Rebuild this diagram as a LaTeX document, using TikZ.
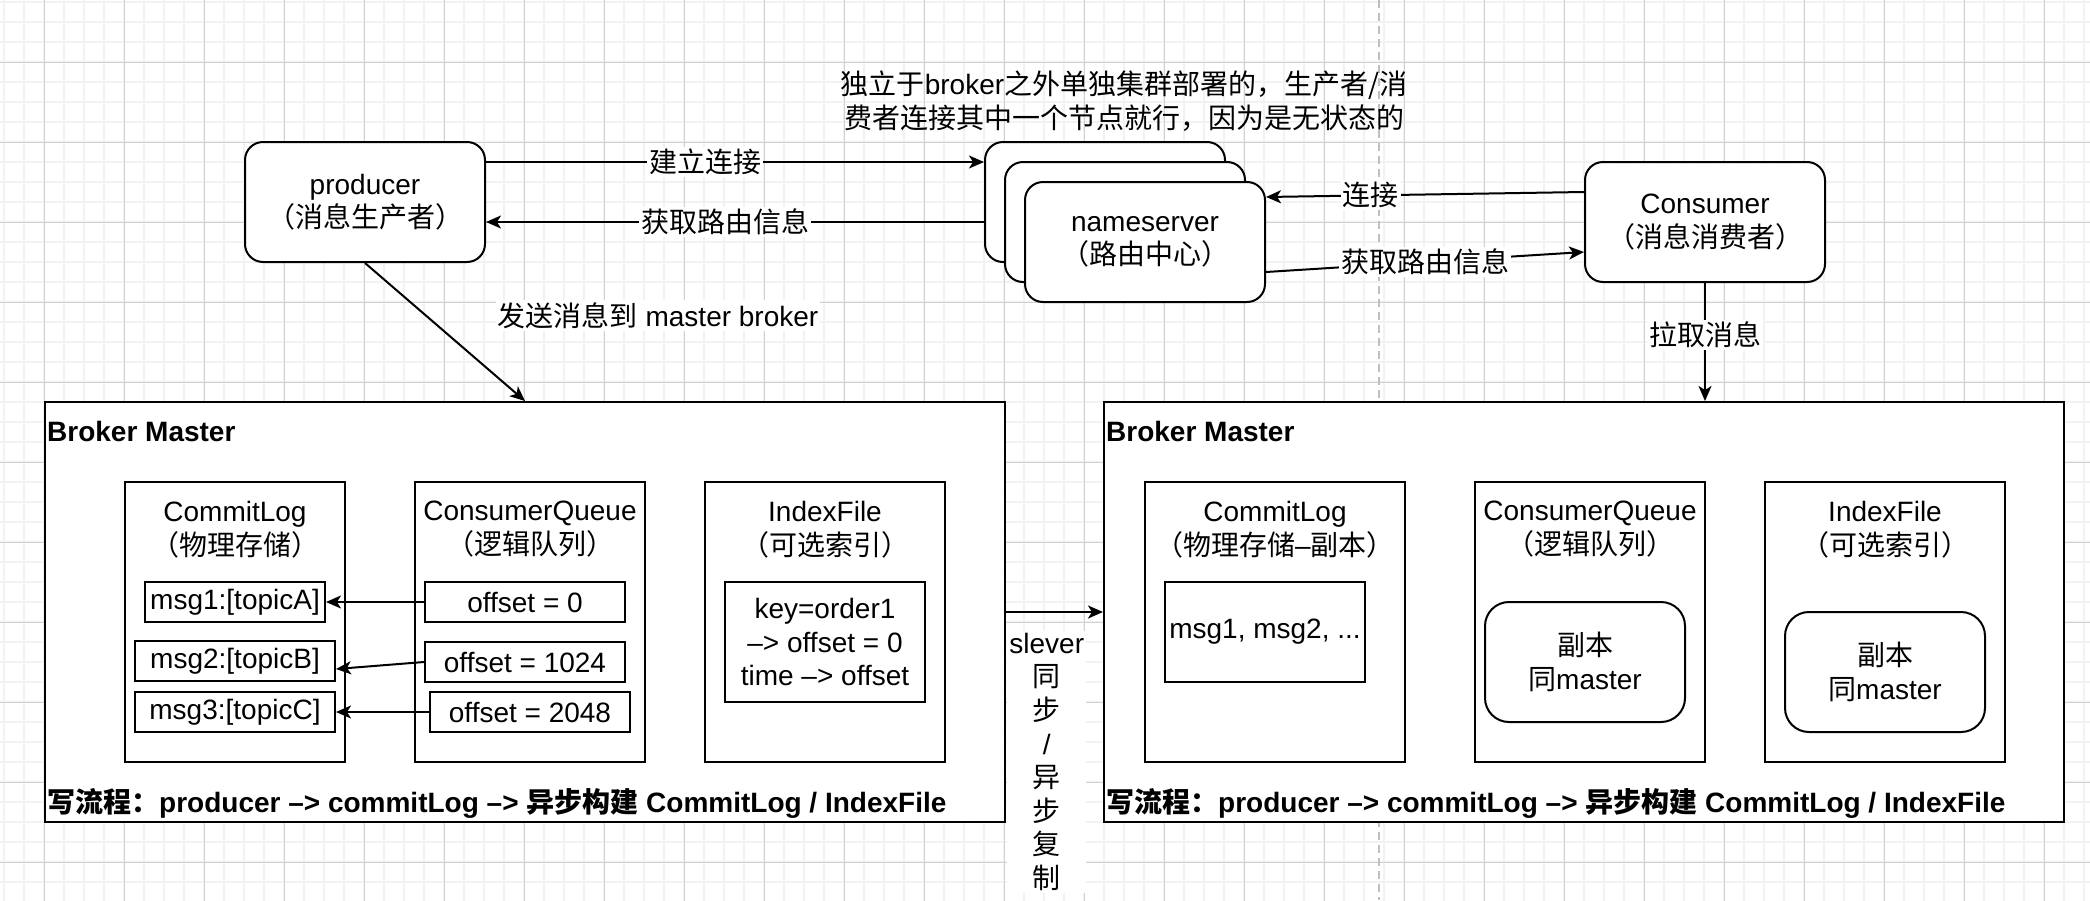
\documentclass[tikz,border=0pt]{standalone}
\usepackage{fontspec}
\setmainfont{Liberation Sans}
\newfontfamily\zhfont{Noto Sans CJK SC}
\newcommand{\zh}[1]{{\zhfont #1}}
\usetikzlibrary{positioning, arrows.meta}

\begin{document}
\begin{tikzpicture}[
  x=1pt, y=-1pt,
  every node/.style={font=\fontsize{28}{33.6}\selectfont, inner sep=0pt},
  rbox/.style={draw, line width=2pt, fill=white, rounded corners=18pt, align=center,
               minimum width=240pt, minimum height=120pt},
  bm/.style={draw, line width=2pt, fill=white, minimum width=960pt, minimum height=420pt},
  col/.style={draw, line width=2pt, minimum width=#1, minimum height=280pt},
  cell/.style={draw, line width=2pt, minimum width=#1, minimum height=40pt},
  rep/.style={draw, line width=2pt, rounded corners=24pt, align=center,
              minimum width=200pt, minimum height=120pt},
  hd/.style={font=\fontsize{28}{33.6}\selectfont\bfseries},
  lbl/.style={fill=white, inner sep=2pt, align=center},
  arr/.style={line width=2pt, -{Stealth[length=15pt, width=13pt, inset=4pt]}},
  gridminor/.style={draw=black!5, line width=2pt},
  gridmajor/.style={draw=black!18, line width=1pt},
  pgbreak/.style={draw=black!25, line width=2pt, dash pattern=on 8pt off 5pt}
]
\useasboundingbox (0,0) rectangle (2090,900);
\fill[white] (0,0) rectangle (2090,900);
\draw[gridminor, step=20pt, shift={(4,2)}] (-20,920) grid (2100,-20);
\draw[gridmajor, step=80pt, shift={(44,62)}] (-80,880) grid (2080,-80);
\draw[pgbreak] (1379,0) -- (1379,900);

\node[rbox] (prod) at (365,202) {producer\\\zh{（消息生产者）}};
\node[rbox] (ns1) at (1105,202) {};
\node[rbox] (ns2) at (1125,222) {};
\node[rbox] (ns3) at (1145,242) {nameserver\\\zh{（路由中心）}};
\node[rbox] (cons) at (1705,222) {Consumer\\\zh{（消息消费者）}};
\node[align=center] (note) at (1124,101) {\zh{独立于}broker\zh{之外单独集群部署的，生产者/消}\\\zh{费者连接其中一个节点就行，因为是无状态的}};

\node[bm] (bmL) at (525,612) {};
\node[bm] (bmR) at (1584,612) {};
\node[hd, below right=20pt and 3pt] (hdL) at (bmL.north west) {Broker Master};
\node[hd, below right=20pt and 3pt] (hdR) at (bmR.north west) {Broker Master};
\node[hd, above right=4pt and 3pt] (wfL) at (bmL.south west) {\zh{写流程：}producer –> commitLog –> \zh{异步构建} CommitLog / IndexFile};
\node[hd, above right=4pt and 3pt] (wfR) at (bmR.south west) {\zh{写流程：}producer –> commitLog –> \zh{异步构建} CommitLog / IndexFile};

\node[col=220pt] (clL) at (235,622) {};
\node[col=230pt] (cqL) at (530,622) {};
\node[col=240pt] (ifL) at (825,622) {};
\node[align=center, below=20pt] (clLt) at (clL.north) {CommitLog\\\zh{（物理存储）}};
\node[align=center, below=20pt] (cqLt) at (cqL.north) {ConsumerQueue\\\zh{（逻辑队列）}};
\node[align=center, below=20pt] (ifLt) at (ifL.north) {IndexFile\\\zh{（可选索引）}};
\node[cell=180pt] (m1) at (235,602) {msg1:[topicA]};
\node[cell=200pt] (m2) at (235,661) {msg2:[topicB]};
\node[cell=200pt] (m3) at (235,712) {msg3:[topicC]};
\node[cell=200pt] (o1) at (525,602) {offset = 0};
\node[cell=200pt] (o2) at (525,662) {offset = 1024};
\node[cell=200pt] (o3) at (530,712) {offset = 2048};
\node[draw, line width=2pt, minimum width=200pt, minimum height=120pt, align=center] (key) at (825,642) {key=order1\\–> offset = 0\\time –> offset};

\node[col=260pt] (clR) at (1275,622) {};
\node[col=230pt] (cqR) at (1590,622) {};
\node[col=240pt] (ifR) at (1885,622) {};
\node[align=center, below=20pt] (clRt) at (clR.north) {CommitLog\\\zh{（物理存储}–\zh{副本）}};
\node[align=center, below=20pt] (cqRt) at (cqR.north) {ConsumerQueue\\\zh{（逻辑队列）}};
\node[align=center, below=20pt] (ifRt) at (ifR.north) {IndexFile\\\zh{（可选索引）}};
\node[draw, line width=2pt, minimum width=200pt, minimum height=100pt] (msgR) at (1265,632) {msg1, msg2, ...};
\node[rep] (repQ) at (1585,662) {\zh{副本}\\\zh{同}master};
\node[rep] (repI) at (1885,672) {\zh{副本}\\\zh{同}master};

\draw[arr] ([yshift=40pt]prod.east) -- node[lbl, pos=.44] (lb1) {\zh{建立连接}} ([yshift=40pt]ns1.west);
\draw[arr] ([yshift=-20pt]ns1.west) -- node[lbl, pos=.52] (lb2) {\zh{获取路由信息}} ([yshift=-20pt]prod.east);
\draw[arr] ([yshift=30pt]cons.west) -- node[lbl, pos=.67] (lb3) {\zh{连接}} ([yshift=45pt]ns3.east);
\draw[arr] ([yshift=-30pt]ns3.east) -- node[lbl, pos=.5] (lb4) {\zh{获取路由信息}} ([yshift=-30pt]cons.west);
\draw[arr] (prod.south) -- node[lbl, pos=.38, right=69pt] (lb5) {\zh{发送消息到} master broker} (bmL.north);
\draw[arr] (cons.south) -- node[lbl, pos=.44] (lb6) {\zh{拉取消息}} (cons.south |- bmR.north);
\draw[arr] (bmL.east) -- node[lbl, pos=.42, below=18pt] (lb7) {slever\\\zh{同}\\\zh{步}\\/\\\zh{异}\\\zh{步}\\\zh{复}\\\zh{制}} (bmR.west);
\draw[arr] (o1.west) -- (m1.east);
\draw[arr] (o2.west) -- ([yshift=-8pt]m2.east);
\draw[arr] (o3.west) -- (m3.east);
\end{tikzpicture}
\end{document}
